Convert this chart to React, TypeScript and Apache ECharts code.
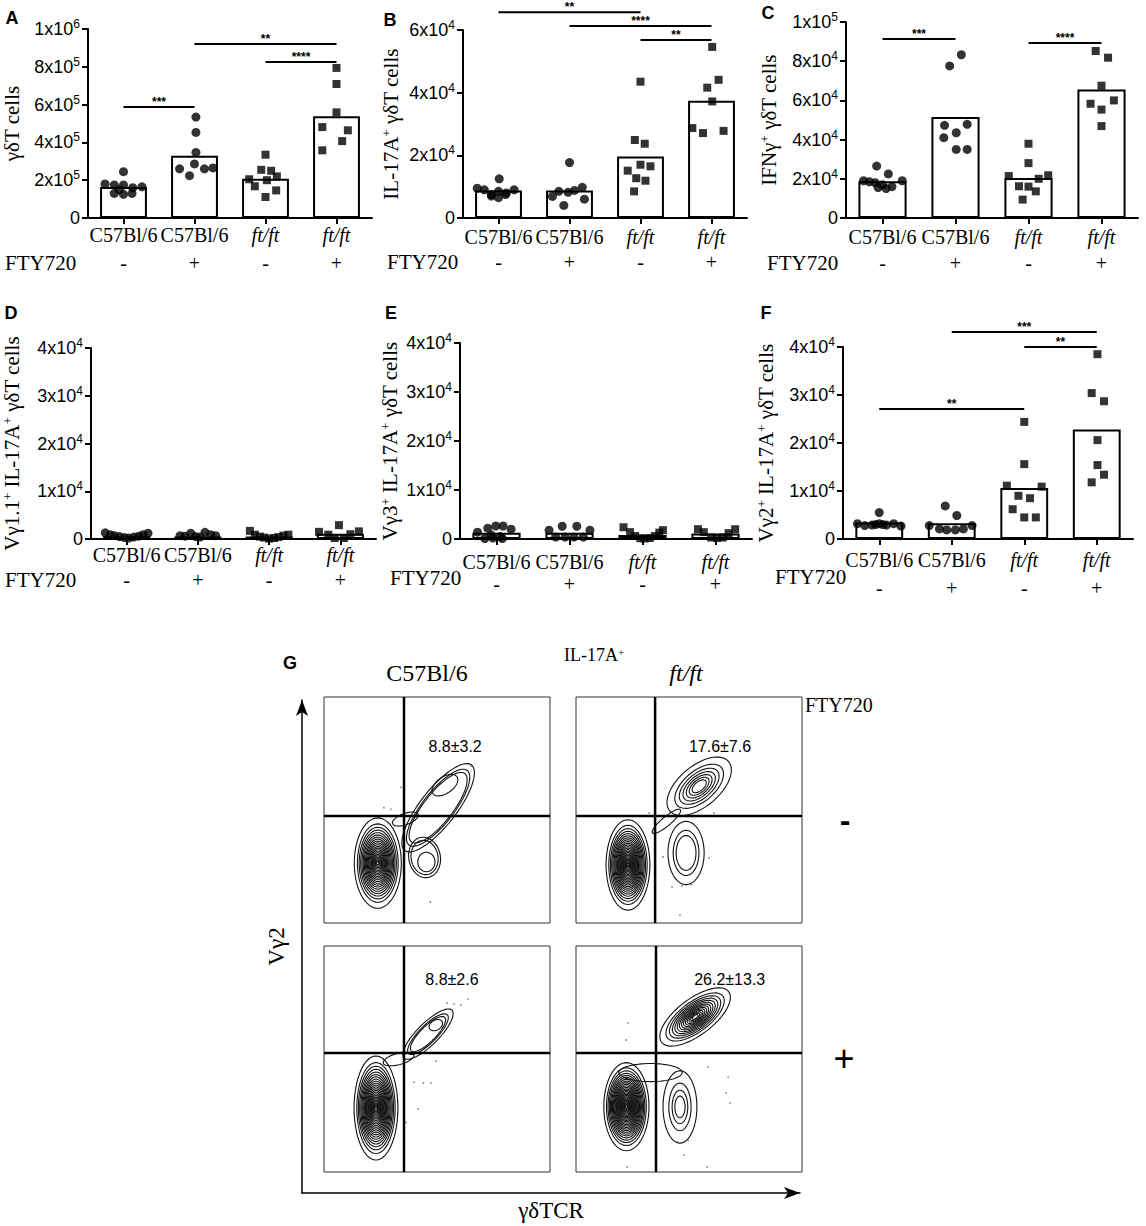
import React, { useEffect, useRef } from "react";
import * as echarts from "echarts";

const SERIF = "'Liberation Serif', 'Times New Roman', serif";
const SANS = "'Liberation Sans', Arial, Helvetica, sans-serif";

// ---------- shared categories ----------
const categories = ["C57Bl/6", "C57Bl/6", "ft/ft", "ft/ft"];
const ftySigns = ["-", "+", "-", "+"];
const panelLetters = ["A", "B", "C", "D", "E", "F"];
const yNames = [
  "γδT cells",
  "IL-17A{s|+} γδT cells",
  "IFNγ{s|+} γδT cells",
  "Vγ1.1{s|+} IL-17A{s|+} γδT cells",
  "Vγ3{s|+} IL-17A{s|+} γδT cells",
  "Vγ2{s|+} IL-17A{s|+} γδT cells",
];
const yMax = [1e6, 6e4, 1e5, 4e4, 4e4, 4e4];
const yInterval = [2e5, 2e4, 2e4, 1e4, 1e4, 1e4];

// ---------- Panel A ----------
const aBars = [1.64e5, 3.29e5, 2.08e5, 5.39e5];
const aG1 = [2.45e5, 1.8e5, 1.75e5, 1.75e5, 1.6e5, 1.65e5, 1.5e5, 1.3e5, 1.25e5, 1.3e5];
const aO1 = [0, -0.26, -0.13, 0, 0.13, 0.26, -0.06, -0.13, 0, 0.12];
const aG2 = [5.34e5, 4.53e5, 3.47e5, 2.86e5, 2.6e5, 2.65e5, 2.24e5, 2.6e5];
const aO2 = [0.02, 0.02, 0.02, 0, -0.21, 0.26, -0.07, 0.14];
const aG3 = [3.35e5, 2.55e5, 2.5e5, 2.05e5, 2.0e5, 2.2e5, 1.68e5, 1.46e5, 1.11e5];
const aO3 = [0, -0.06, 0.08, -0.23, 0.02, 0.16, -0.15, 0.15, 0];
const aG4 = [7.94e5, 7.09e5, 5.59e5, 4.81e5, 4.64e5, 4.07e5, 3.58e5];
const aO4 = [0, 0, 0, -0.2, 0.16, 0.08, -0.2];
const aSig = [[0, 1, 5.87e5, "***"], [1, 3, 9.2e5, "**"], [2, 3, 8.25e5, "****"]];

// ---------- Panel B ----------
const bBars = [8.8e3, 8.8e3, 1.96e4, 3.74e4];
const bG1 = [1.25e4, 0.95e4, 0.9e4, 0.85e4, 0.9e4, 0.8e4, 0.75e4, 0.7e4, 0.65e4, 0.75e4];
const bO1 = [0.01, -0.3, -0.2, 0, 0.22, 0.11, -0.1, -0.1, 0, 0.1];
const bG2 = [1.77e4, 0.98e4, 0.88e4, 0.85e4, 0.69e4, 0.6e4, 0.4e4, 0.82e4];
const bO2 = [0, 0.18, 0.07, -0.15, -0.24, 0.21, -0.08, -0.02];
const bG3 = [4.35e4, 2.49e4, 2.37e4, 1.7e4, 1.65e4, 1.51e4, 1.27e4, 1.19e4, 0.85e4];
const bO3 = [0, -0.08, 0.06, 0, 0.14, -0.18, -0.06, 0.07, -0.09];
const bG4 = [5.46e4, 4.41e4, 4.16e4, 3.72e4, 2.87e4, 2.71e4, 2.78e4];
const bO4 = [0.01, 0.1, -0.06, 0.01, -0.27, -0.12, 0.17];
const bSig = [[0, 2, 6.57e4, "**"], [1, 3, 6.13e4, "****"], [2, 3, 5.68e4, "**"]];

// ---------- Panel C ----------
const cBars = [1.87e4, 5.15e4, 2.04e4, 6.55e4];
const cG1 = [2.65e4, 2.25e4, 1.9e4, 1.85e4, 1.8e4, 1.7e4, 1.6e4, 1.5e4, 1.55e4, 1.9e4];
const cO1 = [-0.08, 0.08, -0.26, -0.18, -0.1, 0, 0.13, 0.05, -0.06, 0.27];
const cG2 = [8.33e4, 7.76e4, 4.78e4, 4.73e4, 4.35e4, 4.1e4, 3.5e4, 3.5e4];
const cO2 = [0.08, -0.08, 0.16, -0.15, 0.01, -0.16, 0.01, 0.16];
const cG3 = [3.79e4, 2.8e4, 2.14e4, 2.18e4, 2.0e4, 1.62e4, 1.6e4, 1.36e4, 0.94e4];
const cO3 = [0, 0, -0.27, 0.27, 0.14, -0.13, 0, 0.1, -0.08];
const cG4 = [8.52e4, 8.18e4, 6.75e4, 6.0e4, 5.83e4, 5.53e4, 4.69e4];
const cO4 = [-0.08, 0.09, 0, 0.17, -0.15, 0, 0];
const cSig = [[0, 1, 9.13e4, "***"], [2, 3, 8.93e4, "****"]];

// ---------- Panel D ----------
const dBars = [600, 500, 500, 1100];
const dG1 = [1300, 900, 700, 500, 300, 200, 400, 600, 900, 1200];
const dO1 = [-0.3, -0.23, -0.17, -0.1, -0.03, 0.03, 0.1, 0.17, 0.23, 0.3];
const dG2 = [700, 600, 1200, 500, 400, 1400, 900, 700];
const dO2 = [-0.25, -0.18, -0.1, -0.03, 0.03, 0.1, 0.18, 0.25];
const dG3 = [1700, 900, 500, 300, 100, 200, 400, 700, 900];
const dO3 = [-0.27, -0.2, -0.13, -0.07, 0, 0.07, 0.13, 0.2, 0.27];
const dG4 = [1500, 900, 2900, 200, 200, 1000, 1600];
const dO4 = [-0.3, -0.17, -0.02, -0.08, 0.05, 0.14, 0.26];
const dSig: any[] = [];

// ---------- Panel E ----------
const eBars = [1300, 1300, 800, 1100];
const eG1 = [1400, 2200, 2650, 2650, 2000, 800, 500, 100, 200, 100];
const eO1 = [-0.26, -0.12, -0.01, 0.09, 0.2, -0.07, 0.05, -0.16, -0.05, 0.08];
const eG2 = [1800, 2600, 2600, 1800, 400, 400, 400, 400];
const eO2 = [-0.28, -0.1, 0.1, 0.28, -0.19, -0.06, 0.06, 0.19];
const eG3 = [2400, 1400, 600, 150, 100, 200, 600, 1300, 1800];
const eO3 = [-0.26, -0.17, -0.1, -0.03, 0.03, 0.1, 0.17, 0.23, 0.28];
const eG4 = [2000, 1400, 300, 200, 300, 1200, 2000];
const eO4 = [-0.24, -0.16, -0.06, 0.02, 0.1, 0.18, 0.27];
const eSig: any[] = [];

// ---------- Panel F ----------
const fBars = [3460, 3300, 10600, 22800];
const fG1 = [5500, 3200, 2800, 2900, 3200, 2900, 3200, 2700, 3000, 3000];
const fO1 = [0, -0.3, -0.2, -0.1, 0, 0.1, 0.2, 0.3, -0.05, 0.05];
const fG2 = [6900, 4900, 2800, 2100, 1900, 1900, 2100, 2800];
const fO2 = [-0.09, 0.07, -0.31, -0.17, -0.07, 0.05, 0.16, 0.28];
const fG3 = [24400, 15600, 11100, 10900, 9000, 8500, 6200, 4500, 4500];
const fO3 = [0, 0, -0.24, 0.24, -0.08, 0.08, -0.16, 0, 0.16];
const fG4 = [38500, 30400, 28700, 20600, 15400, 13400, 11800];
const fO4 = [0.01, -0.07, 0.1, 0.01, 0.01, 0.1, -0.07];
const fSig = [[1, 3, 4.31e4, "***"], [2, 3, 4.0e4, "**"], [0, 2, 2.71e4, "**"]];

// ---------- Panel G (flow cytometry, % of box) ----------
// contour: [cx, cy, rx, ry, angleDeg, levels, innermostScale]
const tlContours = [
  [23.8, 26.5, 10.4, 20, 0, 22, 0.04],
  [50.5, 51, 24, 8, 52, 3, 0.8],
  [53.5, 61, 6.5, 3.6, 35, 1, 1],
  [44.5, 29, 7, 9, 10, 2, 0.85],
  [45.3, 27, 3.8, 4.3, 0, 1, 1],
  [36, 46, 6, 2.5, 20, 1, 1],
];
const trContours = [
  [23, 25.7, 9.7, 20, 0, 24, 0.04],
  [54.5, 60.5, 17, 9, 40, 7, 0.22],
  [48.7, 31, 8, 14, 0, 3, 0.55],
  [40, 45, 8, 2, 40, 1, 1],
];
const blContours = [
  [23, 28.3, 9.7, 23, 0, 24, 0.04],
  [46, 61, 15, 4.8, 45, 3, 0.7],
  [49.5, 65, 3.2, 2.2, 30, 1, 1],
  [33, 50, 7, 2.5, 15, 1, 1],
];
const brContours = [
  [22.3, 28.9, 10, 19.5, 0, 26, 0.04],
  [52.7, 68.6, 18.6, 8, 37, 14, 0.08],
  [46, 28.8, 7.5, 16, 0, 4, 0.3],
  [33, 44, 14, 4, 0, 1, 1],
];
const tlDots = [[34, 60], [26.5, 51], [29.6, 50.4], [65, 69.5], [57.5, 48.7], [47, 9.3]];
const trDots = [[32.3, 48.7], [38.5, 29.2], [42.5, 15.9], [47, 16.5], [51, 17], [58.8, 28.8], [61, 48.7], [46, 3.5]];
const blDots = [[54.4, 74.8], [57.5, 74.3], [60.6, 73.9], [63.7, 76.5], [49.6, 49], [39.8, 39.8], [44, 39.4], [47.3, 39.4], [41.6, 27.9], [36.3, 22]];
const brDots = [[23, 66], [22.1, 58.4], [58.4, 46.5], [67.3, 42], [66.4, 35], [68.1, 30.5], [45, 13.3], [49.6, 14], [47.8, 7.5], [22.6, 2.2], [58, 2.2], [22.1, 11.9]];
const facsLabels = ["8.8±3.2", "17.6±7.6", "8.8±2.6", "26.2±13.3"];
const facsLabelPos = [[58, 78], [63.7, 78], [56.6, 85], [68, 85]];
const quadrants = [[35.4, 47.3], [35, 47.3], [35.4, 52.7], [35.4, 52.7]];

const panels = [
  { bars: aBars, pts: [aG1, aG2, aG3, aG4], off: [aO1, aO2, aO3, aO4], sig: aSig },
  { bars: bBars, pts: [bG1, bG2, bG3, bG4], off: [bO1, bO2, bO3, bO4], sig: bSig },
  { bars: cBars, pts: [cG1, cG2, cG3, cG4], off: [cO1, cO2, cO3, cO4], sig: cSig },
  { bars: dBars, pts: [dG1, dG2, dG3, dG4], off: [dO1, dO2, dO3, dO4], sig: dSig },
  { bars: eBars, pts: [eG1, eG2, eG3, eG4], off: [eO1, eO2, eO3, eO4], sig: eSig },
  { bars: fBars, pts: [fG1, fG2, fG3, fG4], off: [fO1, fO2, fO3, fO4], sig: fSig },
];

// layout (pixels)
const layouts = [
  { left: 88, top: 29, width: 284, height: 189, gap: 66, lm: 7, so: 35, fx: 5, fy: 263, lx: 12, ly: 18 },
  { left: 463, top: 30, width: 284, height: 188, gap: 62, lm: 9, so: 34, fx: 387, fy: 262, lx: 390, ly: 20 },
  { left: 846, top: 22, width: 292, height: 196, gap: 67, lm: 9, so: 35, fx: 767, fy: 263, lx: 768, ly: 13 },
  { left: 88, top: 348, width: 288, height: 191, gap: 69, lm: 6, so: 31, fx: 5, fy: 580, lx: 11, ly: 313 },
  { left: 460, top: 343, width: 292, height: 196, gap: 60, lm: 13, so: 35, fx: 390, fy: 578, lx: 391, ly: 313 },
  { left: 843, top: 347, width: 290, height: 192, gap: 67, lm: 11, so: 39, fx: 775, fy: 577, lx: 766, ly: 313 },
];
const facsLayouts = [
  { left: 324, top: 697 },
  { left: 576, top: 697 },
  { left: 324, top: 946 },
  { left: 576, top: 946 },
];
const FACS_SIZE = 226;

function sci(v: number) {
  if (v === 0) return "{b|0}";
  const e = Math.floor(Math.log10(v) + 1e-9);
  const m = Math.round(v / Math.pow(10, e));
  return `{b|${m}x10}{s|${e}}`;
}

function contourRender(list: number[][]) {
  return (params: any, api: any) => {
    const [cx, cy, rx, ry, ang, lv, ms] = list[params.dataIndex];
    const a = (ang * Math.PI) / 180;
    const children: any[] = [];
    for (let k = 0; k < lv; k++) {
      const f = lv === 1 ? 1 : 1 - (1 - ms) * Math.pow(k / (lv - 1), 0.65);
      const pts: number[][] = [];
      for (let j = 0; j < 64; j++) {
        const t = (j / 64) * Math.PI * 2;
        const ex = rx * f * Math.cos(t);
        const ey = ry * f * Math.sin(t);
        pts.push(api.coord([cx + ex * Math.cos(a) - ey * Math.sin(a), cy + ex * Math.sin(a) + ey * Math.cos(a)]));
      }
      children.push({ type: "polygon", shape: { points: pts }, style: { fill: "none", stroke: "#111", lineWidth: 1.1 } });
    }
    return { type: "group", children };
  };
}

function buildOption() {
  const grid: any[] = [];
  const xAxis: any[] = [];
  const yAxis: any[] = [];
  const series: any[] = [];
  const graphic: any[] = [];

  panels.forEach((p, i) => {
    const L = layouts[i];
    grid.push({ left: L.left, top: L.top, width: L.width, height: L.height, containLabel: false });
    const xi = xAxis.length;
    xAxis.push({
      type: "category", gridIndex: i, data: categories, position: "bottom",
      axisLine: { show: true, onZero: false, lineStyle: { color: "#000", width: 2 } },
      axisTick: { show: true, alignWithLabel: true, length: 6, lineStyle: { color: "#000", width: 2 } },
      axisLabel: {
        interval: 0, margin: L.lm,
        formatter: (v: string) => (v === "ft/ft" ? `{i|${v}}` : `{n|${v}}`),
        rich: {
          n: { fontFamily: SERIF, fontSize: 20, color: "#000" },
          i: { fontFamily: SERIF, fontSize: 20, fontStyle: "italic", color: "#000" },
        },
      },
    });
    xAxis.push({
      type: "category", gridIndex: i, data: ftySigns, position: "bottom", offset: L.so - 8,
      axisLine: { show: false, onZero: false }, axisTick: { show: false },
      axisLabel: { interval: 0, margin: 8, fontFamily: SERIF, fontSize: 20, color: "#000" },
    });
    xAxis.push({ type: "value", gridIndex: i, min: -0.5, max: 3.5, show: false, axisLine: { onZero: false } });
    yAxis.push({
      type: "value", gridIndex: i, min: 0, max: yMax[i], interval: yInterval[i], position: "left",
      axisLine: { show: true, onZero: false, lineStyle: { color: "#000", width: 2 } },
      axisTick: { show: true, length: 6, lineStyle: { color: "#000", width: 2 } },
      splitLine: { show: false },
      axisLabel: {
        margin: 8, formatter: sci,
        rich: {
          b: { fontFamily: SANS, fontSize: 18, color: "#000", lineHeight: 22 },
          s: { fontFamily: SANS, fontSize: 12, color: "#000", verticalAlign: "top", lineHeight: 12 },
        },
      },
      name: yNames[i], nameLocation: "middle", nameRotate: 90, nameGap: L.gap,
      nameTextStyle: {
        fontFamily: SERIF, fontSize: 21, color: "#000",
        rich: { s: { fontFamily: SERIF, fontSize: 13, color: "#000", verticalAlign: "top", lineHeight: 12 } },
      },
    });
    series.push({
      type: "bar", xAxisIndex: xi, yAxisIndex: i, data: p.bars, barWidth: "66%", z: 2,
      itemStyle: { color: "#fff", borderColor: "#000", borderWidth: 2 },
    });
    [0, 1, 2, 3].forEach((g) => {
      series.push({
        type: "scatter", xAxisIndex: xi + 2, yAxisIndex: i, z: 3,
        symbol: g < 2 ? "circle" : "rect", symbolSize: g < 2 ? 9 : 8,
        itemStyle: { color: "#000" },
        data: p.pts[g].map((v, k) => [g + p.off[g][k], v]),
      });
    });
    if (p.sig.length) {
      series.push({
        type: "custom", xAxisIndex: xi + 2, yAxisIndex: i, clip: false, z: 4,
        data: p.sig.map((s: any) => [s[0], s[2]]),
        renderItem: (params: any, api: any) => {
          const s: any = p.sig[params.dataIndex];
          const p0 = api.coord([s[0], s[2]]);
          const p1 = api.coord([s[1], s[2]]);
          return {
            type: "group",
            children: [
              { type: "line", shape: { x1: p0[0], y1: p0[1], x2: p1[0], y2: p1[1] }, style: { stroke: "#000", lineWidth: 2 } },
              {
                type: "text", x: (p0[0] + p1[0]) / 2, y: p0[1] + 1,
                style: { text: s[3], fill: "#000", font: `bold 12px ${SANS}`, textAlign: "center", textVerticalAlign: "bottom", align: "center", verticalAlign: "bottom" },
              },
            ],
          };
        },
      });
    }
    graphic.push({ type: "text", x: L.lx, y: L.ly, style: { text: panelLetters[i], fill: "#000", font: `bold 18px ${SANS}`, textAlign: "center", textVerticalAlign: "middle" } });
    graphic.push({ type: "text", x: L.fx, y: L.fy, style: { text: "FTY720", fill: "#000", font: `21px ${SERIF}`, textAlign: "left", textVerticalAlign: "middle" } });
  });

  // FACS boxes
  const contourSets = [tlContours, trContours, blContours, brContours];
  const dotSets = [tlDots, trDots, blDots, brDots];
  facsLayouts.forEach((F, j) => {
    const gi = grid.length;
    grid.push({ left: F.left, top: F.top, width: FACS_SIZE, height: FACS_SIZE, show: true, borderColor: "#333", borderWidth: 1, backgroundColor: "transparent" });
    const xi = xAxis.length;
    xAxis.push({ type: "value", gridIndex: gi, min: 0, max: 100, show: false });
    const yi = yAxis.length;
    yAxis.push({ type: "value", gridIndex: gi, min: 0, max: 100, show: false });
    const cs = contourSets[j];
    series.push({
      type: "custom", xAxisIndex: xi, yAxisIndex: yi, clip: true,
      data: cs.map((c) => [c[0], c[1]]),
      renderItem: contourRender(cs),
    });
    series.push({
      type: "scatter", xAxisIndex: xi, yAxisIndex: yi, symbolSize: 1.6,
      itemStyle: { color: "#555" }, data: dotSets[j],
    });
    series.push({
      type: "custom", xAxisIndex: xi, yAxisIndex: yi, clip: false, z: 5,
      data: [quadrants[j]],
      renderItem: (params: any, api: any) => {
        const [qx, qy] = quadrants[j];
        const v0 = api.coord([qx, 0]);
        const v1 = api.coord([qx, 100]);
        const h0 = api.coord([0, qy]);
        const h1 = api.coord([100, qy]);
        return {
          type: "group",
          children: [
            { type: "line", shape: { x1: v0[0], y1: v0[1], x2: v1[0], y2: v1[1] }, style: { stroke: "#000", lineWidth: 2.5 } },
            { type: "line", shape: { x1: h0[0], y1: h0[1], x2: h1[0], y2: h1[1] }, style: { stroke: "#000", lineWidth: 2.5 } },
          ],
        };
      },
    });
    series.push({
      type: "custom", xAxisIndex: xi, yAxisIndex: yi, clip: false, z: 6,
      data: [facsLabelPos[j]],
      renderItem: (params: any, api: any) => {
        const pt = api.coord(facsLabelPos[j]);
        return {
          type: "text", x: pt[0], y: pt[1],
          style: { text: facsLabels[j], fill: "#000", font: `16px ${SANS}`, textAlign: "center", textVerticalAlign: "middle", align: "center", verticalAlign: "middle" },
        };
      },
    });
  });

  // G axes with arrows
  const ggi = grid.length;
  grid.push({ left: 302, top: 700, width: 498, height: 493 });
  xAxis.push({
    type: "value", gridIndex: ggi, min: 0, max: 1,
    axisLine: { show: true, onZero: false, symbol: ["none", "arrow"], symbolSize: [9, 16], lineStyle: { color: "#000", width: 1.5 } },
    axisTick: { show: false }, axisLabel: { show: false }, splitLine: { show: false },
    name: "γδTCR", nameLocation: "middle", nameGap: 6,
    nameTextStyle: { fontFamily: SERIF, fontSize: 23, color: "#000", verticalAlign: "top" },
  });
  yAxis.push({
    type: "value", gridIndex: ggi, min: 0, max: 1,
    axisLine: { show: true, onZero: false, symbol: ["none", "arrow"], symbolSize: [9, 16], lineStyle: { color: "#000", width: 1.5 } },
    axisTick: { show: false }, axisLabel: { show: false }, splitLine: { show: false },
    name: "Vγ2", nameLocation: "middle", nameRotate: 90, nameGap: 14,
    nameTextStyle: { fontFamily: SERIF, fontSize: 23, color: "#000" },
  });

  graphic.push(
    { type: "text", x: 290, y: 663, style: { text: "G", fill: "#000", font: `bold 18px ${SANS}`, textAlign: "center", textVerticalAlign: "middle" } },
    {
      type: "text", x: 594, y: 655,
      style: {
        text: "IL-17A{s|+}", fill: "#000", font: `18px ${SERIF}`, textAlign: "center", textVerticalAlign: "middle",
        rich: { s: { fontFamily: SERIF, fontSize: 11, verticalAlign: "top", lineHeight: 10, fill: "#000" } },
      },
    },
    { type: "text", x: 427, y: 673, style: { text: "C57Bl/6", fill: "#000", font: `24px ${SERIF}`, textAlign: "center", textVerticalAlign: "middle" } },
    { type: "text", x: 686, y: 673, style: { text: "ft/ft", fill: "#000", font: `italic 24px ${SERIF}`, textAlign: "center", textVerticalAlign: "middle" } },
    { type: "text", x: 805, y: 705, style: { text: "FTY720", fill: "#000", font: `20px ${SERIF}`, textAlign: "left", textVerticalAlign: "middle" } },
    { type: "text", x: 845, y: 820, style: { text: "-", fill: "#000", font: `bold 32px ${SANS}`, textAlign: "center", textVerticalAlign: "middle" } },
    { type: "text", x: 844, y: 1058, style: { text: "+", fill: "#000", font: `36px ${SANS}`, textAlign: "center", textVerticalAlign: "middle" } }
  );

  return {
    animation: false,
    backgroundColor: "#fff",
    textStyle: { fontFamily: SANS },
    grid, xAxis, yAxis, series, graphic,
  };
}

export default function App() {
  const ref = useRef<HTMLDivElement>(null);
  useEffect(() => {
    if (!ref.current) return;
    const chart = echarts.init(ref.current, undefined, { renderer: "svg" });
    chart.setOption(buildOption() as any);
    return () => chart.dispose();
  }, []);
  return <div ref={ref} style={{ position: "absolute", left: 0, top: 0, width: 1146, height: 1226, background: "#fff" }} />;
}
